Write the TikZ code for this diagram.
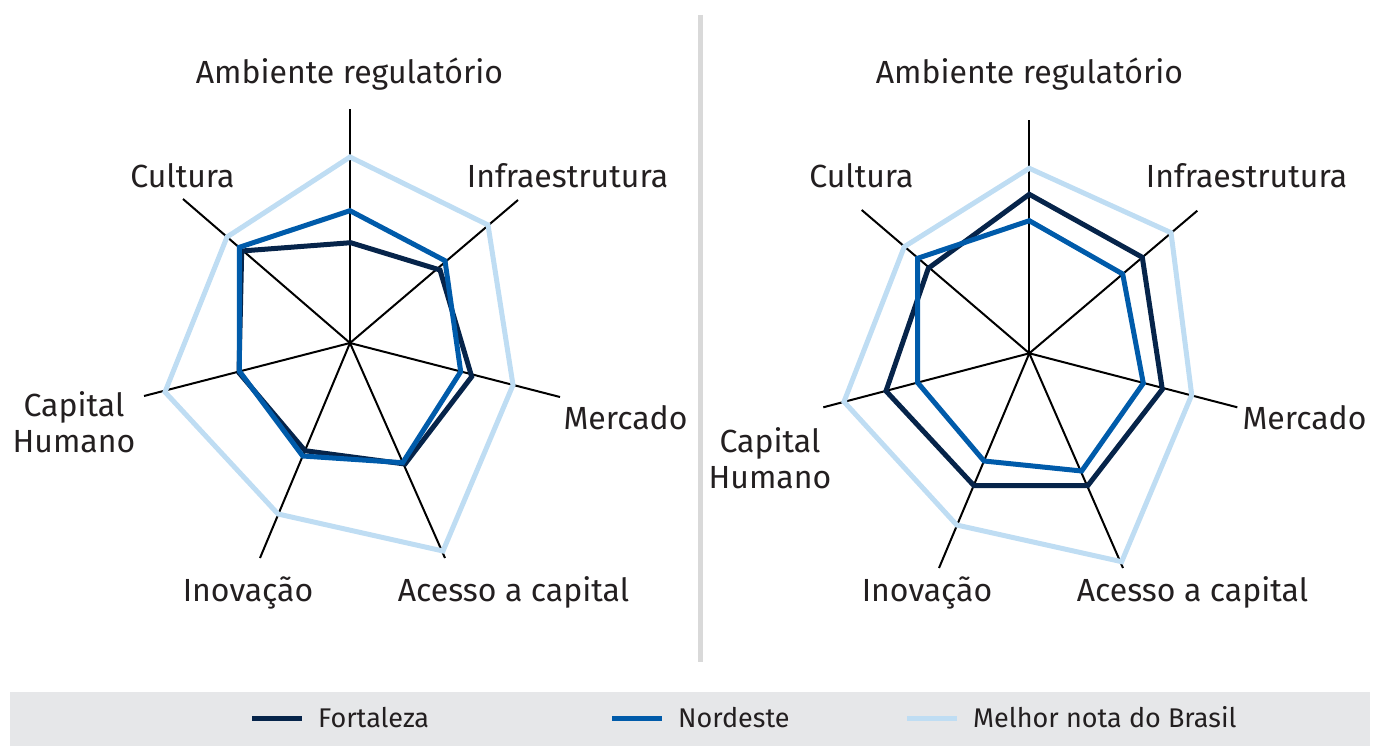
\documentclass[tikz,border=0pt]{standalone}
\usepackage{fontspec}
\setmainfont{Fira Sans}
\definecolor{fort}{HTML}{06244A}
\definecolor{nord}{HTML}{005BAA}
\definecolor{melhor}{HTML}{BFDDF3}
\definecolor{sep}{HTML}{D9D9D9}
\definecolor{band}{HTML}{E6E7E9}
\definecolor{txt}{HTML}{231F20}
\begin{document}
\begin{tikzpicture}[x=1pt,y=-1pt,
  axisline/.style={black,line width=2pt},
  fortline/.style={fort,line width=5pt},
  nordline/.style={nord,line width=5pt},
  melhorline/.style={melhor,line width=5pt},
  lab/.style={font=\fontsize{32}{38}\selectfont,text=txt,inner sep=0pt,anchor=base},
  leg/.style={font=\fontsize{27}{32}\selectfont,text=txt,inner sep=0pt,anchor=base west}]
\useasboundingbox (0,0) rectangle (1373,746);
% separator
\draw[sep,line width=5pt] (700,15) -- (700,662);
% legend band
\fill[band] (10,692) rectangle (1370,746);

% ---------- Chart 1 ----------
\coordinate (c1) at (350,343);
\coordinate (c1a) at (350,109);
\coordinate (c1i) at (518,200);
\coordinate (c1m) at (560,397);
\coordinate (c1ac) at (445,558);
\coordinate (c1in) at (260,558);
\coordinate (c1ca) at (144,396);
\coordinate (c1cu) at (183,199);
\foreach \k in {a,i,m,ac,in,ca,cu} {\draw[axisline] (c1) -- (c1\k);}
\draw[melhorline] (350,157) -- (488,225) -- (513,385) -- (443,551) -- (278,514) -- (165,392) -- (227,237) -- cycle;
\draw[fortline] (350.7,242.7) -- (440,270) -- (471.7,376.7) -- (405,464) -- (305,450.7) -- (239,372.7) -- (241.7,251) -- cycle;
\draw[nordline] (350,210.7) -- (445,260.7) -- (460.7,371.7) -- (402.7,462.7) -- (302.7,456) -- (239.3,371) -- (239.3,247.3) -- cycle;

\node[lab] (l1a) at (349.5,84) {Ambiente regulatório};
\node[lab] (l1cu) at (182.5,188) {Cultura};
\node[lab] (l1i) at (567.5,188) {Infraestrutura};
\node[lab] (l1m) at (625.5,429) {Mercado};
\node[lab] (l1ca) at (74,416) {Capital};
\node[lab] (l1h) at (74,452) {Humano};
\node[lab] (l1in) at (248,601) {Inovação};
\node[lab] (l1ac) at (513.5,601) {Acesso a capital};

% ---------- Chart 2 ----------
\coordinate (c2) at (1029.3,353.3);
\coordinate (c2a) at (1029.3,120);
\coordinate (c2i) at (1197.3,210.7);
\coordinate (c2m) at (1237.3,407.3);
\coordinate (c2ac) at (1123,568);
\coordinate (c2in) at (939,568);
\coordinate (c2ca) at (823.3,407.3);
\coordinate (c2cu) at (861.7,210);
\foreach \k in {a,i,m,ac,in,ca,cu} {\draw[axisline] (c2) -- (c2\k);}
\draw[melhorline] (1029.3,168.3) -- (1171,232.7) -- (1191.7,395) -- (1121.7,561.7) -- (956.7,525) -- (844,401.7) -- (904.3,246.7) -- cycle;
\draw[fortline] (1029.3,194.3) -- (1142.3,257.3) -- (1162.3,389.3) -- (1087.7,485.7) -- (974,485.7) -- (886,391) -- (928.3,268.3) -- cycle;
\draw[nordline] (1029.3,220.7) -- (1122.7,274) -- (1143.3,383.3) -- (1081.7,471) -- (984,461) -- (917.7,382.7) -- (917.7,258.3) -- cycle;

\node[lab] (l2a) at (1029.5,84) {Ambiente regulatório};
\node[lab] (l2cu) at (861.5,188) {Cultura};
\node[lab] (l2i) at (1246.5,188) {Infraestrutura};
\node[lab] (l2m) at (1304.5,429) {Mercado};
\node[lab] (l2ca) at (770,452) {Capital};
\node[lab] (l2h) at (770,488) {Humano};
\node[lab] (l2in) at (927,601) {Inovação};
\node[lab] (l2ac) at (1192.5,601) {Acesso a capital};

% ---------- Legend ----------
\coordinate (f1) at (252,718); \coordinate (f2) at (302,718);
\coordinate (n1) at (612,718); \coordinate (n2) at (662,718);
\coordinate (b1) at (907,718); \coordinate (b2) at (957,718);
\draw[fortline] (f1) -- (f2);
\draw[nordline] (n1) -- (n2);
\draw[melhorline] (b1) -- (b2);
\node[leg] (lf) at (318,727) {Fortaleza};
\node[leg] (ln) at (678,727) {Nordeste};
\node[leg] (lb) at (973,727) {Melhor nota do Brasil};
\end{tikzpicture}
\end{document}
